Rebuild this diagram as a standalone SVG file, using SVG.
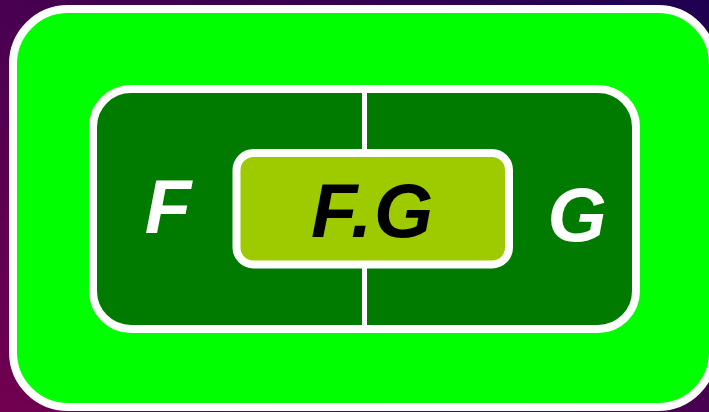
<svg xmlns="http://www.w3.org/2000/svg" width="709" height="412" viewBox="0 0 709 412">
<defs>
<linearGradient id="bg" x1="1" y1="0" x2="0" y2="1">
<stop offset="0" stop-color="#1f0050"/>
<stop offset="1" stop-color="#720050"/>
</linearGradient>
<style>
.box{stroke:#fff;stroke-width:8}
.lbl{font-family:"Liberation Sans",Arial,sans-serif;font-weight:bold;font-style:italic;font-size:76px;text-anchor:middle}
</style>
</defs>
<rect x="0" y="0" width="709" height="412" fill="url(#bg)"/>
<g id="outer">
<rect class="box" x="13" y="9" width="700" height="398" rx="55" fill="#00ff00"/>
</g>
<g id="inner">
<rect class="box" x="93" y="89" width="543" height="240" rx="38" fill="#007b00"/>
</g>
<g id="connectors">
<line x1="364.5" y1="91" x2="364.5" y2="327" stroke="#fff" stroke-width="5"/>
</g>
<g id="F">
<text class="lbl" x="168" y="233" fill="#fff">F</text>
</g>
<g id="G">
<text class="lbl" x="577" y="241" fill="#fff">G</text>
</g>
<g id="FG">
<rect class="box" x="236.5" y="153" width="272.5" height="111.5" rx="17" fill="#9ecb00"/>
<text class="lbl" x="373" y="237" fill="#000" letter-spacing="2">F.G</text>
</g>
</svg>
